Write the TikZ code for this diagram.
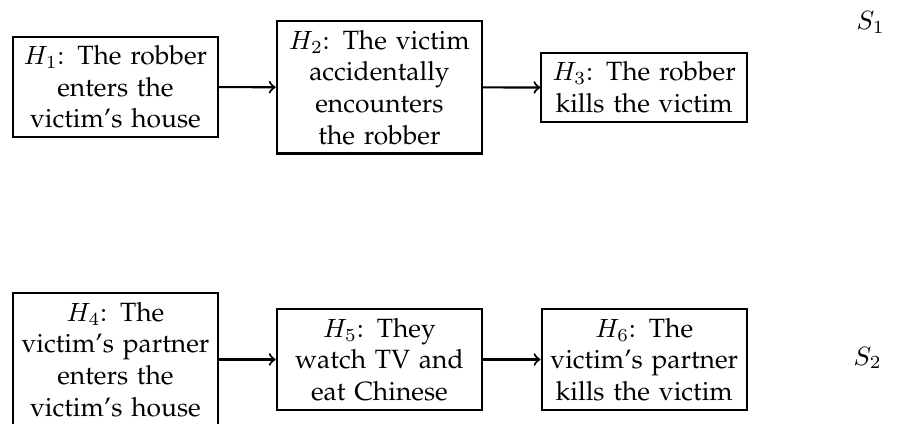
\documentclass[tikz,border=0pt]{standalone}
\usepackage[T1]{fontenc}
\usepackage{palatino}
\tikzset{hyp/.style={draw, thick, rectangle, text width=2.5cm, align=center}}

\begin{document}
\begin{tikzpicture}
\useasboundingbox (0,0) rectangle (11.94,-5.643);

\node[hyp] (h1) at (1.537,-1.158) {$H_1$: The robber\\ enters the\\ victim's house};
\node[hyp] (h2) at (5.051,-1.163) {$H_2$: The victim\\ accidentally\\ encounters\\ the robber};
\node[hyp] (h3) at (8.574,-1.165) {$H_3$: The robber\\ kills the victim};
\node[] (s1) at (11.59,-0.293) {$S_1$};

\draw[->, thick](h1) -- (h2);
\draw[->, thick](h2) -- (h3);

\node[hyp] (h4) at (1.537,-4.785) {$H_4$: The\\ victim's partner\\ enters the\\ victim's house};
\node[hyp] (h5) at (5.051,-4.785) {$H_5$: They\\ watch TV and\\ eat Chinese};
\node[hyp] (h6) at (8.576,-4.785) {$H_6$: The\\ victim's partner\\ kills the victim};
\node[] (s2) at (11.55,-4.765) {$S_2$};

\draw[->, thick](h4) -- (h5);
\draw[->, thick](h5) -- (h6);

\end{tikzpicture}
\end{document}
